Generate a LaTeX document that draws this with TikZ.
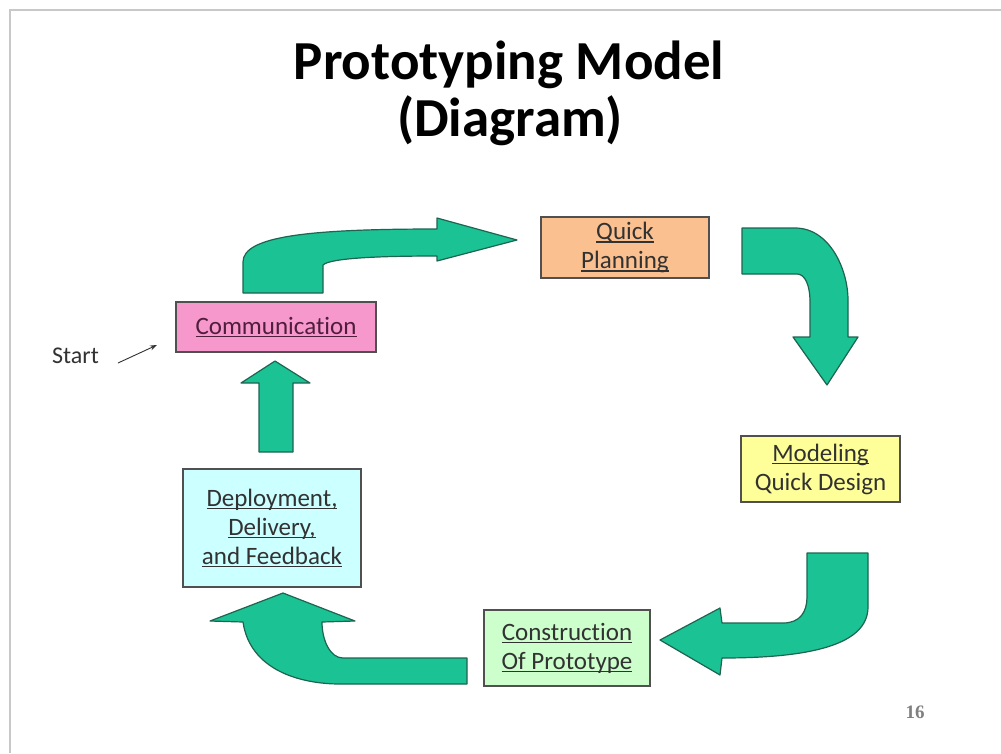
\documentclass[tikz,border=0pt]{standalone}
\usepackage{fontspec}
\setmainfont{Carlito}[Ligatures=NoCommon]
\newfontfamily\pagenumfont{Liberation Serif}
\usetikzlibrary{arrows.meta}
\definecolor{commfill}{RGB}{246,152,204}
\definecolor{planfill}{RGB}{250,192,144}
\definecolor{modfill}{RGB}{255,255,153}
\definecolor{consfill}{RGB}{204,255,204}
\definecolor{depfill}{RGB}{204,255,255}
\definecolor{arrowfill}{RGB}{26,194,148}
\definecolor{arrowline}{RGB}{30,100,80}
\definecolor{boxline}{RGB}{80,80,80}
\definecolor{txt}{RGB}{50,50,50}
\definecolor{commtxt}{RGB}{80,30,60}
\definecolor{framegray}{RGB}{200,200,200}
\newcommand{\myul}[1]{\setbox0\hbox{#1}\leavevmode\rlap{\copy0}\rule[-3pt]{\wd0}{1.1pt}}
\begin{document}
\begin{tikzpicture}[x=1pt,y=-1pt,
  box/.style={draw=boxline, line width=1.3pt, align=center, inner sep=0pt,
    font=\fontsize{25}{29}\selectfont, text=txt},
  blockarrow/.style={fill=arrowfill, draw=arrowline, line width=1.2pt, line join=round},
  titlefont/.style={font=\fontsize{55}{50}\selectfont\bfseries, text=black, anchor=base}]
\useasboundingbox (0,0) rectangle (1001,753);
\fill[white] (0,0) rectangle (1001,753);
\draw[framegray, line width=1.5pt] (1001,10) -- (10,10) -- (10,753);

% title
\node[titlefont] (title1) at (509,79) {Prototyping Model};
\node[titlefont] (title2) at (510,136) {(Diagram)};

% boxes
\node[box, fill=commfill, minimum width=200pt, minimum height=50pt, text=commtxt] (comm) at (276,327) {\myul{Communication}};
\node[box, fill=planfill, minimum width=168pt, minimum height=61pt] (plan) at (625,247.5) {\myul{Quick}\\\myul{Planning}};
\node[box, fill=modfill, minimum width=159pt, minimum height=66pt] (model) at (820.5,469) {\myul{Modeling}\\Quick Design};
\node[box, fill=consfill, minimum width=166pt, minimum height=76pt] (cons) at (567,648) {\myul{Construction}\\\myul{Of Prototype}};
\node[box, fill=depfill, minimum width=178pt, minimum height=118pt] (dep) at (272,528) {\myul{Deployment,}\\\myul{Delivery,}\\\myul{and Feedback}};

% start
\node[font=\fontsize{24}{28}\selectfont, text=txt, anchor=base west, inner sep=0pt] (start) at (52,363) {Start};
\coordinate (sa0) at (118,363);
\coordinate (sa1) at (157,345);
\draw[-{Stealth[length=7pt,width=5pt]}, line width=0.9pt, txt] (sa0) -- (sa1);

% page number
\node[font=\pagenumfont\fontsize{19}{19}\selectfont\bfseries, text=gray] (pg) at (915,712) {16};

% arrow 1: communication -> quick planning
\draw[blockarrow] (243,293) -- (243,262) .. controls (243,236) and (310,229) .. (437,229)
  -- (437,218) -- (517,240) -- (437,261) -- (437,256)
  .. controls (380,256) and (330,258) .. (323,265) -- (323,293) -- cycle;

% arrow 2: quick planning -> modeling
\draw[blockarrow] (742,228) -- (795,228) .. controls (830,228) and (848,270) .. (848,300)
  -- (848,337) -- (858,337) -- (827,385) -- (793,337) -- (810,337)
  -- (810,302) .. controls (810,285) and (805,274) .. (797,274) -- (742,274) -- cycle;

% arrow 3: modeling -> construction
\draw[blockarrow] (807,553) -- (868,553) -- (868,607) .. controls (868,645) and (810,658) .. (722,658)
  -- (720,675) -- (660,640) -- (720,608) -- (722,623)
  -- (783,623) .. controls (800,623) and (807,612) .. (807,597) -- cycle;

% arrow 4: construction -> deployment
\draw[blockarrow] (467,658) -- (343,658) .. controls (330,658) and (322,640) .. (322,622)
  -- (355,621) -- (283,593) -- (210,621) -- (243,622)
  .. controls (250,670) and (300,684) .. (340,684) -- (467,684) -- cycle;

% arrow 5: deployment -> communication
\draw[blockarrow] (259,452) -- (259,383) -- (241,383) -- (275,361) -- (310,383) -- (293,383) -- (293,452) -- cycle;
\end{tikzpicture}
\end{document}
